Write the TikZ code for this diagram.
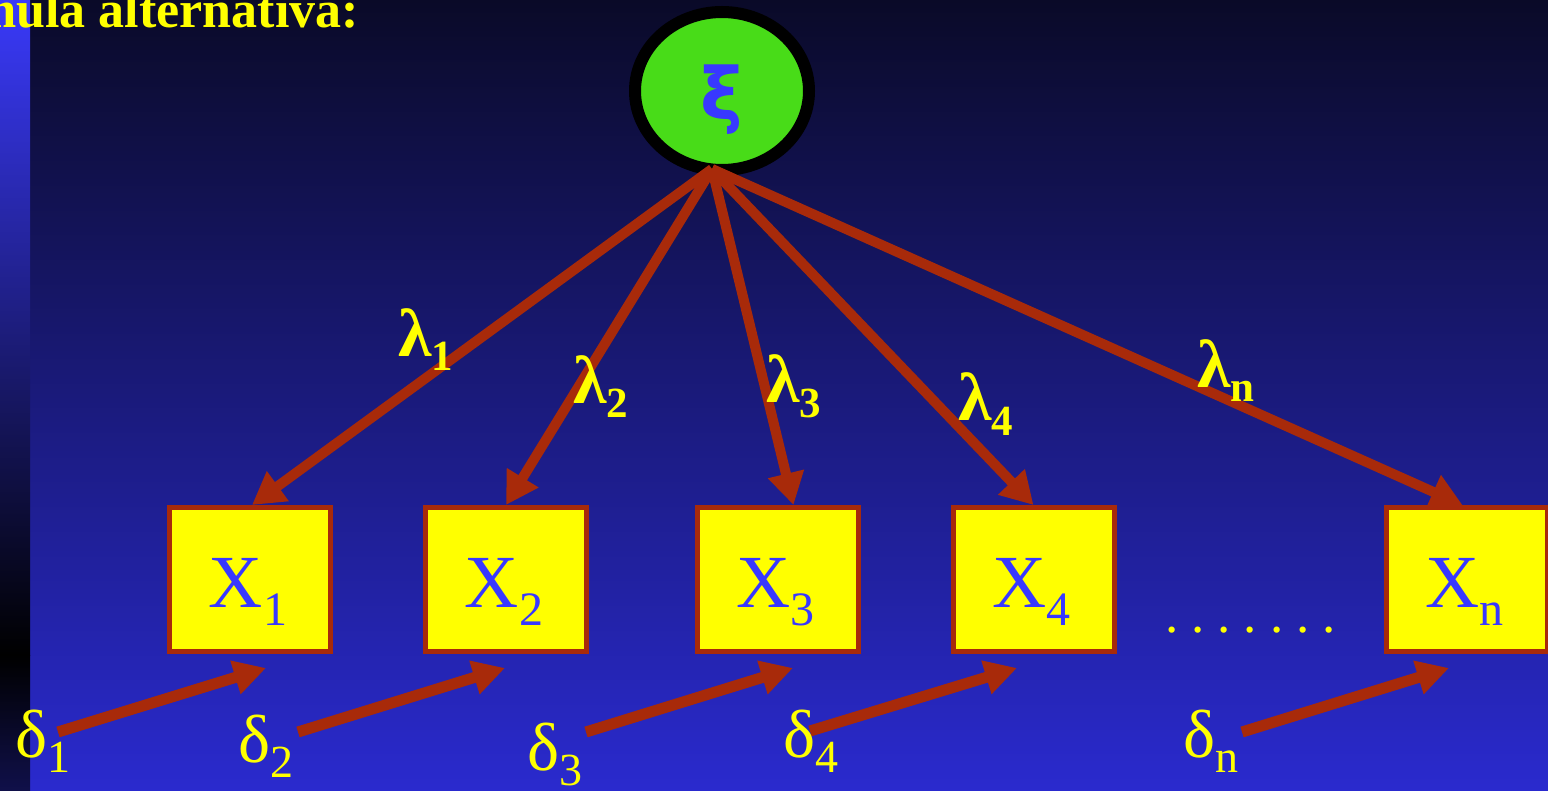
\documentclass[tikz,border=0pt]{standalone}
\usepackage{fontspec}
\setmainfont{Liberation Serif}
\newfontfamily\xifont{DejaVu Sans}
\usetikzlibrary{arrows.meta,shapes.geometric,calc}
\definecolor{arr}{RGB}{168,42,10}
\definecolor{bgtop}{RGB}{10,10,40}
\definecolor{bgbot}{RGB}{42,42,206}
\definecolor{stripblue}{RGB}{58,58,250}
\definecolor{stripbot}{RGB}{16,16,74}
\definecolor{txtblue}{RGB}{56,56,255}
\definecolor{ellgreen}{RGB}{72,220,24}
\definecolor{yel}{RGB}{255,255,0}
\newcommand\mysub[5]{\fontsize{#1}{#1}\selectfont #2\raisebox{-#5}{\fontsize{#3}{#3}\selectfont #4}}
\newcommand\dd{.\kern13pt}
\tikzset{
  varbox/.style={draw=arr, line width=5pt, fill=yel, minimum width=161pt, minimum height=144pt, inner sep=0pt},
  load/.style={draw=arr, line width=10pt, -{Triangle[length=32pt,width=35pt]}},
  err/.style={draw=arr, line width=11pt, -{Triangle[length=32pt,width=33pt]}},
  lam/.style={text=yel, anchor=base west, inner sep=0pt, font=\bfseries},
  del/.style={text=yel, anchor=base west, inner sep=0pt},
  xlab/.style={text=txtblue, anchor=base, inner sep=0pt}
}
\begin{document}
\begin{tikzpicture}[x=1pt,y=-1pt]
\useasboundingbox (0,0) rectangle (1548,791);
% background
\shade[top color=bgtop, bottom color=bgbot] (0,0) rectangle (1548,791);
\shade[top color=stripblue, bottom color=black] (0,0) rectangle (30,655);
\shade[top color=black, bottom color=stripbot] (0,655) rectangle (30,791);
% title
\node[text=yel, anchor=base east, inner sep=0pt, font=\bfseries\fontsize{52}{52}\selectfont] (title) at (359,28) {mula alternativa:};
% latent variable
\node[ellipse, draw=black, line width=12pt, fill=ellgreen, minimum width=174pt, minimum height=158pt, inner sep=0pt] (xi) at (722,91) {};
\node[text=txtblue, inner sep=0pt, font=\xifont\bfseries\fontsize{72}{72}\selectfont] (xisym) at (722,100) {ξ};
\coordinate (apex) at (712,169);
% boxes
\node[varbox] (x1) at (250,579.5) {};
\node[varbox] (x2) at (506,579.5) {};
\node[varbox] (x3) at (777.5,579.5) {};
\node[varbox] (x4) at (1033.5,579.5) {};
\node[varbox] (xn) at (1466.5,579.5) {};
\node[xlab] (lx1) at (248,607) {\mysub{75}{X}{48}{1}{18pt}};
\node[xlab] (lx2) at (504,607) {\mysub{75}{X}{48}{2}{18pt}};
\node[xlab] (lx3) at (775.5,607) {\mysub{75}{X}{48}{3}{18pt}};
\node[xlab] (lx4) at (1031.5,607) {\mysub{75}{X}{48}{4}{18pt}};
\node[xlab] (lxn) at (1464.5,607) {\mysub{75}{X}{48}{n}{18pt}};
% loadings
\draw[load] (apex) -- ([xshift=2pt]x1.north);
\draw[load] (apex) -- (x2.north);
\draw[load] (apex) -- ([xshift=16pt]x3.north);
\draw[load] (apex) -- (x4.north);
\draw[load] (apex) -- ([xshift=-4pt]xn.north);
\node[lam] (l1) at (398,357) {\mysub{68}{λ}{43}{1}{14pt}};
\node[lam] (l2) at (573,404) {\mysub{68}{λ}{43}{2}{14pt}};
\node[lam] (l3) at (766,403) {\mysub{68}{λ}{43}{3}{14pt}};
\node[lam] (l4) at (958,421) {\mysub{68}{λ}{43}{4}{14pt}};
\node[lam] (ln) at (1197,388) {\mysub{68}{λ}{43}{n}{14pt}};
% errors
\coordinate (e1s) at (58,732);  \coordinate (e1t) at (266,668);
\coordinate (e2s) at (298,732); \coordinate (e2t) at (505,668);
\coordinate (e3s) at (586,732); \coordinate (e3t) at (793,668);
\coordinate (e4s) at (810,731); \coordinate (e4t) at (1017,668);
\coordinate (ens) at (1242,732); \coordinate (ent) at (1449,668);
\draw[err] (e1s) -- (e1t);
\draw[err] (e2s) -- (e2t);
\draw[err] (e3s) -- (e3t);
\draw[err] (e4s) -- (e4t);
\draw[err] (ens) -- (ent);
\node[del] (d1) at (15,757) {\mysub{68}{δ}{46}{1}{15pt}};
\node[del] (d2) at (238,762) {\mysub{68}{δ}{46}{2}{15pt}};
\node[del] (d3) at (527,770) {\mysub{68}{δ}{46}{3}{15pt}};
\node[del] (d4) at (783,757) {\mysub{68}{δ}{46}{4}{15pt}};
\node[del] (dn) at (1183,757) {\mysub{68}{δ}{46}{n}{15pt}};
% dots
\node[text=yel, anchor=base west, inner sep=0pt, font=\fontsize{53}{53}\selectfont] (dots) at (1165,632) {\dd\dd\dd\dd\dd\dd.};
\end{tikzpicture}
\end{document}
